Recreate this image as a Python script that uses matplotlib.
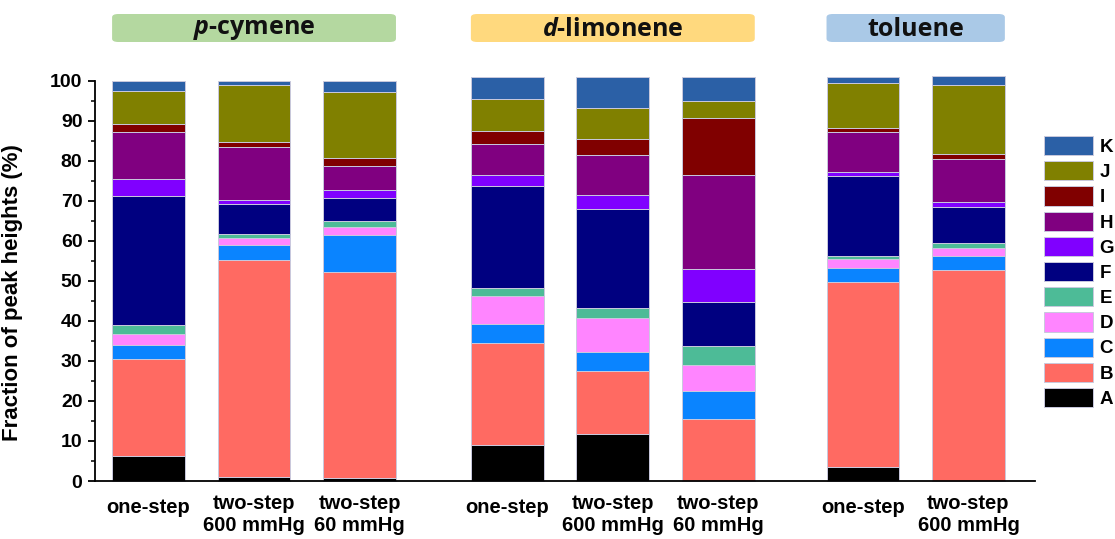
import matplotlib
matplotlib.use("Agg")
import matplotlib.pyplot as plt
from matplotlib.patches import FancyBboxPatch, Patch
from matplotlib.transforms import blended_transform_factory
from matplotlib.ticker import MultipleLocator

# ---- data -------------------------------------------------------------
groups = ["$\\mathit{p}$-cymene", "$\\mathit{d}$-limonene", "toluene"]
group_sizes = [3, 3, 2]
conditions = ["one-step", "two-step\n600 mmHg", "two-step\n60 mmHg",
              "one-step", "two-step\n600 mmHg", "two-step\n60 mmHg",
              "one-step", "two-step\n600 mmHg"]

components = ["A", "B", "C", "D", "E", "F", "G", "H", "I", "J", "K"]
A = [6.2, 1.1, 0.7, 9.0, 11.7, 0.0, 3.6, 0.0]
B = [24.2, 54.0, 51.4, 25.4, 15.7, 15.4, 46.1, 52.6]
C = [3.6, 3.9, 9.4, 4.85, 4.9, 7.2, 3.6, 3.5]
D = [2.7, 1.8, 1.9, 6.85, 8.4, 6.3, 2.1, 2.2]
E = [2.3, 0.8, 1.6, 2.0, 2.4, 4.8, 0.85, 1.1]
F = [32.1, 7.5, 5.8, 25.5, 24.8, 10.9, 20.0, 9.0]
G = [4.4, 1.2, 1.8, 2.9, 3.5, 8.4, 1.0, 1.35]
H = [11.8, 13.2, 6.2, 7.75, 10.0, 23.5, 10.0, 10.65]
I = [2.0, 1.2, 2.0, 3.25, 4.1, 14.3, 1.05, 1.35]
J = [8.2, 14.1, 16.3, 7.9, 7.6, 4.2, 11.1, 17.15]
K = [2.5, 1.2, 2.9, 5.5, 7.8, 5.9, 1.5, 2.15]
series = [A, B, C, D, E, F, G, H, I, J, K]

colors = ["#000000", "#ff6a62", "#0a84ff", "#ff85ff", "#4dbb97", "#000080",
          "#8000ff", "#800080", "#800000", "#808000", "#2b60a6"]
header_colors = ["#b4d8a0", "#ffd97e", "#aac9e7"]

# ---- style ------------------------------------------------------------
plt.rcParams["font.family"] = ["Liberation Sans", "DejaVu Sans"]
plt.rcParams["font.weight"] = "bold"
plt.rcParams["mathtext.fontset"] = "custom"
plt.rcParams["mathtext.it"] = "Open Sans:italic:bold"
plt.rcParams["mathtext.rm"] = "Open Sans:bold"

fig = plt.figure(figsize=(11.15, 5.39), dpi=100)
ax = fig.add_axes([0.0852, 0.1076, 0.843, 0.7427])

# bar positions: unit spacing within a group, wider gap between groups
group_starts = [0.0, 3.4, 6.77]
x = []
for start, n in zip(group_starts, group_sizes):
    x += [start + k for k in range(n)]
width = 0.69

bottom = [0.0] * len(x)
for vals, col in zip(series, colors):
    ax.bar(x, vals, width=width, bottom=bottom, color=col,
           edgecolor="#c9c9dd", linewidth=0.7, clip_on=False, zorder=2)
    bottom = [b + v for b, v in zip(bottom, vals)]

ax.set_xlim(-0.507, 8.40)
ax.set_ylim(0, 100)

for s in ("top", "right"):
    ax.spines[s].set_visible(False)
for s in ("left", "bottom"):
    ax.spines[s].set_linewidth(1.3)
    ax.spines[s].set_zorder(3)

ax.set_xticks([])
ax.yaxis.set_major_locator(MultipleLocator(10))
ax.yaxis.set_minor_locator(MultipleLocator(5))
ax.tick_params(axis="y", which="major", length=5, width=1.3,
               labelsize=14, pad=4, direction="out")
ax.tick_params(axis="y", which="minor", length=3, width=1.1, direction="out")
for lbl in ax.get_yticklabels():
    lbl.set_fontweight("bold")

ax.set_ylabel("Fraction of peak heights (%)", fontsize=16, fontweight="bold")
ax.yaxis.set_label_coords(-0.0766, 0.47)

# condition labels under each bar
xt = ax.get_xaxis_transform()
for xi, lab in zip(x, conditions):
    if "\n" in lab:
        ax.text(xi, -0.0837, lab, transform=xt, ha="center", va="center",
                fontsize=14.5, fontweight="bold", linespacing=1.25)
    else:
        ax.text(xi, -0.0674, lab, transform=xt, ha="center", va="center",
                fontsize=14.5, fontweight="bold")

# group headers above the bars
bt = blended_transform_factory(ax.transData, fig.transFigure)
box_y0 = 1 - 42 / 539
box_h = 28 / 539
for start, n, name, hc in zip(group_starts, group_sizes, groups, header_colors):
    x0 = start - width / 2
    x1 = start + n - 1 + width / 2
    box = FancyBboxPatch((x0, box_y0), x1 - x0, box_h,
                         boxstyle="round,pad=0,rounding_size=0.06",
                         mutation_aspect=0.1,
                         transform=bt, facecolor=hc, edgecolor="none",
                         clip_on=False)
    fig.add_artist(box)
    fig.text((x0 + x1) / 2, box_y0 + box_h / 2 - 0.002, name, transform=bt,
             ha="center", va="center", fontsize=18, fontfamily="Open Sans",
             fontweight="bold", color="#111111")

# legend, K at the top down to A
handles = [Patch(facecolor=c, edgecolor="#c9c9dd", linewidth=0.7, label=l)
           for c, l in zip(colors, components)][::-1]
fig.legend(handles=handles, loc="upper left",
           bbox_to_anchor=(1044 / 1115, 1 - 136 / 539),
           frameon=False, handlelength=2.6, handleheight=1.2,
           labelspacing=0.28, handletextpad=0.35, borderpad=0,
           borderaxespad=0, prop={"weight": "bold", "size": 13.5})

fig.savefig("out.png", dpi=100)
